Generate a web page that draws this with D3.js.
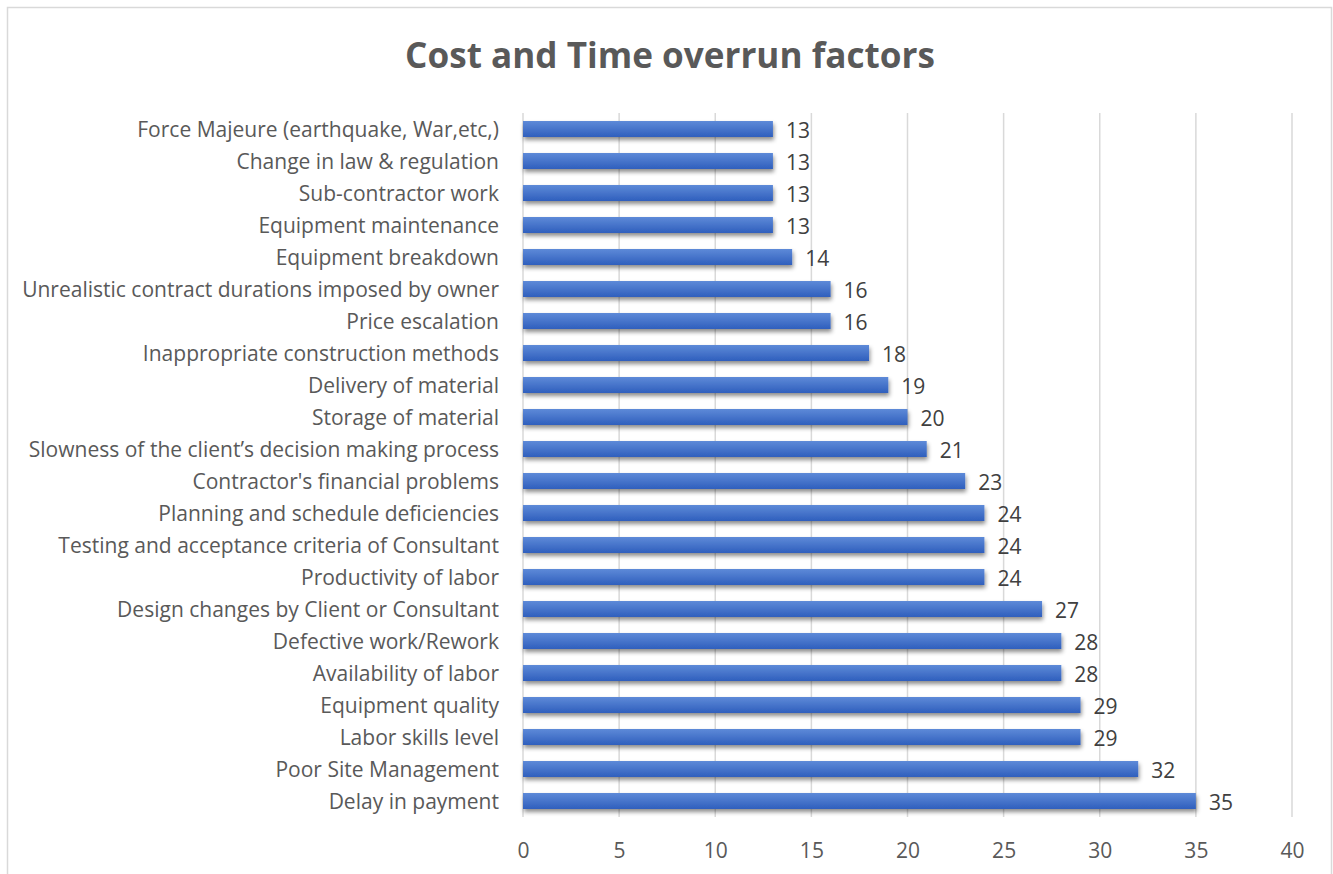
<!DOCTYPE html>
<html>
<head>
<meta charset="utf-8">
<script src="https://cdn.jsdelivr.net/npm/d3@7"></script>
<style>
  body { margin: 0; background: #fff; }
  svg { display: block; font-family: "Open Sans", sans-serif; }
</style>
</head>
<body>
<div id="chart"></div>
<script>
const categories = [
  "Force Majeure (earthquake, War,etc,)",
  "Change in law & regulation",
  "Sub-contractor work",
  "Equipment maintenance",
  "Equipment breakdown",
  "Unrealistic contract durations imposed by owner",
  "Price escalation",
  "Inappropriate construction methods",
  "Delivery of material ",
  "Storage of material ",
  "Slowness of the client\u2019s decision making process",
  "Contractor's financial problems",
  "Planning and schedule deficiencies",
  "Testing and acceptance criteria of Consultant ",
  "Productivity of labor",
  "Design changes by Client or Consultant",
  "Defective work/Rework",
  "Availability of labor",
  "Equipment quality",
  "Labor skills level",
  "Poor Site Management ",
  "Delay in payment"
];
const values = [13, 13, 13, 13, 14, 16, 16, 18, 19, 20, 21, 23, 24, 24, 24, 27, 28, 28, 29, 29, 32, 35];
const xTicks = [0, 5, 10, 15, 20, 25, 30, 35, 40];
const title = "Cost and Time overrun factors";

const width = 1333, height = 874;
const plot = { left: 523, right: 1292, top: 113, bottom: 817 };
const fontFamily = "'Open Sans', sans-serif";

const svg = d3.select("#chart").append("svg")
  .attr("width", width)
  .attr("height", height);

// measure text so the label block spans the same width as the original (~477px)
function measure(text, size, weight) {
  const t = svg.append("text").attr("font-size", size).attr("font-weight", weight || "normal")
    .style("font-family", fontFamily).text(text);
  const w = t.node().getComputedTextLength();
  t.remove();
  return w;
}
const longest = categories.reduce((a, b) => (measure(b, 20) > measure(a, 20) ? b : a));
const labelSize = 20 * 477 / measure(longest, 20);
const titleSize = 36 * 530 / measure(title, 36, "bold");

const defs = svg.append("defs");
const grad = defs.append("linearGradient")
  .attr("id", "barGrad").attr("x1", 0).attr("y1", 0).attr("x2", 0).attr("y2", 1);
grad.append("stop").attr("offset", "0%").attr("stop-color", "#5e8ad8");
grad.append("stop").attr("offset", "100%").attr("stop-color", "#2f5fbd");

const shadow = defs.append("filter").attr("id", "shadow")
  .attr("x", "-5%").attr("y", "-50%").attr("width", "110%").attr("height", "220%");
shadow.append("feDropShadow")
  .attr("dx", 1).attr("dy", 3).attr("stdDeviation", 2.2)
  .attr("flood-color", "#000").attr("flood-opacity", 0.45);

// chart border
svg.append("rect")
  .attr("x", 7.5).attr("y", 7.5)
  .attr("width", 1324).attr("height", 900)
  .attr("fill", "none").attr("stroke", "#d9d9d9").attr("stroke-width", 1.5);

const x = d3.scaleLinear().domain([0, 40]).range([plot.left, plot.right]);
const y = d3.scaleBand().domain(categories).range([plot.top, plot.bottom]).paddingInner(0.5).paddingOuter(0.25);

// gridlines
svg.append("g").selectAll("line")
  .data(xTicks)
  .join("line")
    .attr("x1", d => x(d)).attr("x2", d => x(d))
    .attr("y1", plot.top).attr("y2", plot.bottom)
    .attr("stroke", "#d9d9d9").attr("stroke-width", 1.5);

// x axis labels
const xAxis = d3.axisBottom(x).tickValues(xTicks).tickSize(0).tickPadding(0);
const gx = svg.append("g")
  .attr("transform", `translate(0,${plot.bottom + 26})`)
  .call(xAxis);
gx.select(".domain").remove();
gx.selectAll("text")
  .attr("font-size", labelSize).attr("fill", "#595959")
  .style("font-family", fontFamily);

// category labels
const yAxis = d3.axisLeft(y).tickSize(0).tickPadding(0);
const gy = svg.append("g")
  .attr("transform", `translate(${plot.left - 24},1.5)`)
  .call(yAxis);
gy.select(".domain").remove();
gy.selectAll("text")
  .attr("font-size", labelSize).attr("fill", "#595959")
  .style("font-family", fontFamily);

// bars
svg.append("g").selectAll("rect")
  .data(values)
  .join("rect")
    .attr("x", x(0))
    .attr("y", (d, i) => y(categories[i]))
    .attr("width", d => x(d) - x(0))
    .attr("height", y.bandwidth())
    .attr("fill", "url(#barGrad)")
    .attr("filter", "url(#shadow)");

// value labels
svg.append("g").selectAll("text")
  .data(values)
  .join("text")
    .attr("x", d => x(d) + 13)
    .attr("y", (d, i) => y(categories[i]) + y.bandwidth() / 2)
    .attr("dy", "0.45em")
    .attr("font-size", labelSize).attr("fill", "#404040")
    .style("font-family", fontFamily)
    .text(d => d);

// title
svg.append("text")
  .attr("x", 670).attr("y", 68)
  .attr("text-anchor", "middle")
  .attr("font-size", titleSize).attr("font-weight", "bold").attr("fill", "#595959")
  .style("font-family", fontFamily)
  .text(title);
</script>
</body>
</html>
